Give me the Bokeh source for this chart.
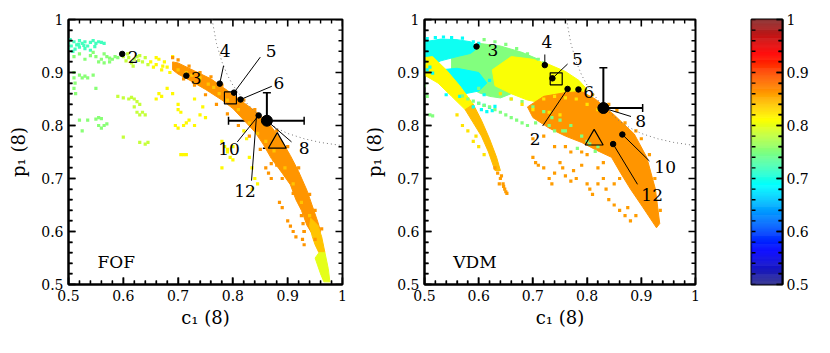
import math
from bokeh.plotting import figure
from bokeh.layouts import row
from bokeh.models import (ColumnDataSource, FixedTicker, CustomJSTickFormatter,
                          Whisker, TeeHead, Range1d)
from bokeh.transform import linear_cmap
from bokeh.core.properties import value
from bokeh.embed import file_html
from bokeh.resources import INLINE

FONT = "DejaVu Serif"

# ---------------- colour scale (jet-like, 0.5 .. 1) ----------------
cb_low, cb_high = 0.5, 1.0
jet_stops = [(0.0, (45, 45, 140)), (0.125, (0, 0, 255)), (0.375, (0, 255, 255)),
             (0.625, (255, 255, 0)), (0.875, (255, 0, 0)), (1.0, (140, 45, 45))]


def jet(t):
    for (t0, c0), (t1, c1) in zip(jet_stops[:-1], jet_stops[1:]):
        if t <= t1:
            f = (t - t0) / (t1 - t0)
            return "#%02x%02x%02x" % tuple(int(round(a + (b - a) * f)) for a, b in zip(c0, c1))
    return "#%02x%02x%02x" % jet_stops[-1][1]


palette = [jet(i / 255) for i in range(256)]

major_ticks = [0.5, 0.6, 0.7, 0.8, 0.9, 1.0]
minor_ticks = [0.52, 0.54, 0.56, 0.58, 0.62, 0.64, 0.66, 0.68, 0.72, 0.74, 0.76, 0.78,
               0.82, 0.84, 0.86, 0.88, 0.92, 0.94, 0.96, 0.98]

# dotted iso-curve (same in both panels)
curve_c = [0.762, 0.77, 0.78, 0.79, 0.80, 0.82, 0.84, 0.86, 0.88, 0.90, 0.93, 0.96, 1.0]
curve_p = [1.0, 0.955, 0.92, 0.895, 0.876, 0.848, 0.826, 0.808, 0.795, 0.785, 0.775, 0.768, 0.762]

# ================= FOF panel data =================
fof_band_v = [0.865, 0.84, 0.80]
fof_band_c = [
    [0.69, 0.70, 0.73, 0.76, 0.79, 0.82, 0.85, 0.87, 0.89, 0.905, 0.92, 0.935, 0.945, 0.955, 0.96,
     0.955, 0.945, 0.935, 0.925, 0.915, 0.905, 0.89, 0.87, 0.855, 0.84, 0.82, 0.80, 0.78, 0.75, 0.72, 0.70, 0.69],
    [0.942, 0.955, 0.962, 0.968, 0.957, 0.95, 0.945, 0.94],
    [0.957, 0.968, 0.974, 0.977, 0.966, 0.96, 0.955, 0.95],
]
fof_band_p = [
    [0.92, 0.918, 0.903, 0.888, 0.866, 0.843, 0.82, 0.798, 0.77, 0.743, 0.713, 0.678, 0.648, 0.618, 0.60,
     0.592, 0.595, 0.612, 0.64, 0.66, 0.688, 0.71, 0.738, 0.765, 0.788, 0.81, 0.832, 0.848, 0.868, 0.886, 0.897, 0.905],
    [0.625, 0.612, 0.59, 0.56, 0.56, 0.575, 0.59, 0.61],
    [0.56, 0.56, 0.53, 0.505, 0.505, 0.52, 0.535, 0.55],
]

fof_g1_v = 0.72
fof_g1_c = [0.50, 0.505, 0.51, 0.515, 0.52, 0.525, 0.53, 0.535, 0.54, 0.545, 0.55, 0.555, 0.56, 0.50, 0.512,
            0.52, 0.53, 0.54, 0.503, 0.508, 0.518, 0.528, 0.548, 0.565]
fof_g1_p = [0.955, 0.95, 0.958, 0.952, 0.96, 0.955, 0.958, 0.95, 0.957, 0.96, 0.955, 0.958, 0.957, 0.945, 0.944,
            0.948, 0.945, 0.942, 0.962, 0.94, 0.953, 0.951, 0.949, 0.955]
fof_g2_v = 0.755
fof_g2_c = [0.51, 0.52, 0.53, 0.54, 0.55, 0.555, 0.56, 0.565, 0.57, 0.575, 0.58, 0.585, 0.59, 0.51, 0.51, 0.512,
            0.51, 0.513, 0.52, 0.525, 0.53, 0.535, 0.545, 0.55, 0.52, 0.535, 0.55, 0.555, 0.56, 0.555, 0.56, 0.565,
            0.57, 0.525, 0.545, 0.565, 0.575]
fof_g2_p = [0.93, 0.935, 0.925, 0.932, 0.93, 0.92, 0.925, 0.918, 0.93, 0.92, 0.925, 0.93, 0.928, 0.90, 0.89, 0.88,
            0.87, 0.86, 0.895, 0.89, 0.893, 0.89, 0.895, 0.87, 0.81, 0.81, 0.812, 0.815, 0.813, 0.80, 0.795, 0.80,
            0.803, 0.79, 0.938, 0.935, 0.927]
fof_g3_v = 0.785
fof_g3_c = [0.60, 0.605, 0.61, 0.615, 0.62, 0.625, 0.63, 0.635, 0.64, 0.645, 0.59, 0.60, 0.61, 0.615, 0.62, 0.625,
            0.63, 0.62, 0.625, 0.63, 0.635, 0.64, 0.60, 0.63, 0.64, 0.645, 0.608, 0.618, 0.628]
fof_g3_p = [0.93, 0.922, 0.928, 0.918, 0.925, 0.93, 0.932, 0.92, 0.928, 0.915, 0.855, 0.852, 0.85, 0.853, 0.85,
            0.845, 0.84, 0.835, 0.825, 0.82, 0.825, 0.82, 0.778, 0.768, 0.765, 0.768, 0.935, 0.912, 0.923]
fof_g4_v = 0.815
fof_g4_c = [0.65, 0.655, 0.66, 0.665, 0.67, 0.675, 0.68, 0.685, 0.66, 0.665, 0.67, 0.68, 0.69, 0.70, 0.70, 0.705,
            0.695, 0.70, 0.71, 0.715, 0.72, 0.705, 0.71, 0.715, 0.73, 0.74, 0.75, 0.73, 0.745, 0.78, 0.785, 0.79,
            0.795, 0.80, 0.80, 0.78, 0.79, 0.83, 0.835, 0.84, 0.845, 0.835, 0.82, 0.825, 0.66, 0.672, 0.69]
fof_g4_p = [0.92, 0.91, 0.915, 0.925, 0.905, 0.92, 0.91, 0.90, 0.85, 0.86, 0.855, 0.87, 0.86, 0.84, 0.83, 0.825,
            0.80, 0.795, 0.80, 0.805, 0.81, 0.745, 0.745, 0.745, 0.80, 0.82, 0.815, 0.85, 0.835, 0.77, 0.76, 0.75,
            0.74, 0.76, 0.735, 0.72, 0.755, 0.74, 0.72, 0.70, 0.69, 0.68, 0.79, 0.775, 0.928, 0.912, 0.93]
fof_g5_v = 0.865
fof_g5_c = [0.86, 0.865, 0.87, 0.885, 0.89, 0.875, 0.88, 0.90, 0.91, 0.915, 0.905, 0.925, 0.928, 0.93, 0.927, 0.93,
            0.69, 0.70, 0.72, 0.74, 0.76, 0.78, 0.80, 0.82, 0.84, 0.86, 0.88, 0.90, 0.92, 0.94, 0.95,
            0.71, 0.73, 0.75, 0.77, 0.79, 0.81, 0.83, 0.85, 0.87, 0.89, 0.91, 0.93, 0.95, 0.962]
fof_g5_p = [0.72, 0.71, 0.70, 0.655, 0.645, 0.735, 0.725, 0.62, 0.60, 0.59, 0.61, 0.63, 0.615, 0.60, 0.585, 0.575,
            0.928, 0.924, 0.912, 0.90, 0.892, 0.876, 0.862, 0.848, 0.83, 0.815, 0.79, 0.76, 0.72, 0.67, 0.64,
            0.888, 0.876, 0.858, 0.84, 0.822, 0.80, 0.78, 0.755, 0.728, 0.70, 0.672, 0.60, 0.585, 0.605]
fof_g6_v = 0.84
fof_g6_c = [0.70, 0.715, 0.725, 0.74, 0.755, 0.765, 0.775, 0.79, 0.81, 0.83, 0.845, 0.86, 0.875, 0.895, 0.91, 0.925,
            0.94, 0.948]
fof_g6_p = [0.905, 0.90, 0.895, 0.89, 0.878, 0.872, 0.86, 0.848, 0.83, 0.805, 0.785, 0.77, 0.752, 0.72, 0.69, 0.655,
            0.63, 0.61]

fof_pt_c = [0.598, 0.715, 0.776, 0.802, 0.814, 0.847]
fof_pt_p = [0.935, 0.894, 0.879, 0.862, 0.849, 0.819]
fof_lbl_txt = ["2", "3", "4", "5", "6", "8", "10", "12"]
fof_lbl_c = [0.618, 0.733, 0.786, 0.870, 0.884, 0.930, 0.793, 0.822]
fof_lbl_p = [0.929, 0.890, 0.940, 0.940, 0.881, 0.757, 0.755, 0.676]
fof_lead_c0 = [0.783, 0.850, 0.871, 0.907, 0.808, 0.834]
fof_lead_p0 = [0.913, 0.929, 0.874, 0.769, 0.769, 0.696]
fof_lead_c1 = [0.776, 0.802, 0.814, 0.862, 0.847, 0.843]
fof_lead_p1 = [0.879, 0.862, 0.849, 0.809, 0.819, 0.817]
fof_obs_c, fof_obs_p = 0.862, 0.809
fof_obs_clo, fof_obs_chi = 0.792, 0.930
fof_obs_plo, fof_obs_phi = 0.757, 0.862
fof_sq_c, fof_sq_p = 0.7955, 0.852
fof_tri_c, fof_tri_p = 0.881, 0.767

# ================= VDM panel data =================
vdm_band_v = [0.75, 0.695, 0.69, 0.81, 0.865, 0.815, 0.845]
vdm_band_c = [
    [0.55, 0.60, 0.64, 0.68, 0.71, 0.70, 0.68, 0.66, 0.64, 0.62, 0.60, 0.58, 0.55],
    [0.5, 0.53, 0.56, 0.585, 0.60, 0.585, 0.56, 0.53, 0.515, 0.5],
    [0.53, 0.56, 0.60, 0.615, 0.60, 0.575, 0.55, 0.535],
    [0.66, 0.70, 0.73, 0.76, 0.785, 0.80, 0.78, 0.75, 0.72, 0.69, 0.66, 0.63, 0.625],
    [0.72, 0.76, 0.79, 0.815, 0.85, 0.887, 0.91, 0.926, 0.934, 0.928, 0.90, 0.88, 0.862, 0.845, 0.82, 0.79,
     0.76, 0.73, 0.70, 0.69],
    [0.5, 0.515, 0.54, 0.565, 0.59, 0.575, 0.55, 0.525, 0.5],
    [0.59, 0.605, 0.62, 0.633, 0.64, 0.63, 0.618, 0.605, 0.59, 0.575],
]
vdm_band_p = [
    [0.935, 0.955, 0.95, 0.938, 0.925, 0.90, 0.875, 0.86, 0.852, 0.855, 0.862, 0.875, 0.9],
    [0.958, 0.963, 0.962, 0.958, 0.948, 0.936, 0.93, 0.922, 0.912, 0.905],
    [0.905, 0.908, 0.90, 0.88, 0.865, 0.86, 0.87, 0.885],
    [0.93, 0.925, 0.915, 0.902, 0.885, 0.868, 0.852, 0.845, 0.842, 0.848, 0.86, 0.875, 0.905],
    [0.855, 0.862, 0.864, 0.85, 0.82, 0.784, 0.74, 0.68, 0.615, 0.607, 0.65, 0.68, 0.71, 0.74, 0.752, 0.768,
     0.78, 0.795, 0.815, 0.835],
    [0.928, 0.93, 0.905, 0.875, 0.84, 0.83, 0.855, 0.88, 0.895],
    [0.84, 0.81, 0.775, 0.74, 0.715, 0.715, 0.75, 0.78, 0.805, 0.83],
]

vdm_g1_v = 0.69
vdm_g1_c = [0.59, 0.60, 0.605, 0.61, 0.615, 0.62, 0.625, 0.63, 0.50, 0.505, 0.51, 0.59, 0.60, 0.57, 0.55,
            0.62, 0.61, 0.54, 0.565, 0.52, 0.535, 0.505, 0.515]
vdm_g1_p = [0.835, 0.842, 0.83, 0.838, 0.826, 0.834, 0.828, 0.836, 0.92, 0.905, 0.91, 0.958, 0.955, 0.965, 0.966,
            0.885, 0.858, 0.858, 0.855, 0.966, 0.967, 0.964, 0.899]
vdm_g2_v = 0.75
vdm_g2_c = [0.57, 0.58, 0.59, 0.60, 0.61, 0.62, 0.63, 0.64, 0.65, 0.66, 0.67, 0.68, 0.69, 0.60, 0.62, 0.64,
            0.66, 0.68, 0.70, 0.72, 0.50, 0.505, 0.50, 0.51, 0.515, 0.77, 0.76, 0.75, 0.79, 0.80, 0.805, 0.74,
            0.73, 0.815, 0.782, 0.82, 0.61, 0.63, 0.65, 0.67, 0.69, 0.71, 0.72, 0.705, 0.735, 0.755]
vdm_g2_p = [0.856, 0.85, 0.846, 0.842, 0.838, 0.835, 0.83, 0.825, 0.82, 0.815, 0.81, 0.805, 0.80, 0.87, 0.865,
            0.858, 0.85, 0.845, 0.835, 0.826, 0.86, 0.855, 0.875, 0.82, 0.818, 0.80, 0.79, 0.81, 0.78, 0.77,
            0.765, 0.79, 0.80, 0.751, 0.757, 0.76, 0.962, 0.958, 0.953, 0.945, 0.935, 0.925, 0.918, 0.805,
            0.815, 0.79]
vdm_g3_v = 0.825
vdm_g3_c = [0.56, 0.57, 0.58, 0.59, 0.60, 0.595, 0.61, 0.72, 0.74, 0.76, 0.78, 0.80, 0.82, 0.70, 0.73, 0.75,
            0.68, 0.66, 0.64]
vdm_g3_p = [0.82, 0.80, 0.79, 0.77, 0.76, 0.78, 0.745, 0.85, 0.855, 0.852, 0.85, 0.84, 0.83, 0.83, 0.825, 0.82,
            0.84, 0.85, 0.86]
vdm_g4_v = 0.86
vdm_g4_c = [0.70, 0.705, 0.71, 0.72, 0.73, 0.735, 0.74, 0.75, 0.755, 0.76, 0.77, 0.78, 0.775, 0.79, 0.80, 0.805,
            0.81, 0.82, 0.83, 0.835, 0.84, 0.85, 0.86, 0.87, 0.875, 0.88, 0.89, 0.85, 0.86, 0.82, 0.83, 0.80,
            0.79, 0.77, 0.76, 0.74, 0.72, 0.70,
            0.63, 0.635, 0.64, 0.638, 0.645, 0.648, 0.65, 0.652, 0.642, 0.646,
            0.915, 0.925, 0.935, 0.90, 0.89, 0.87, 0.855, 0.84, 0.81]
vdm_g4_p = [0.74, 0.73, 0.725, 0.72, 0.70, 0.69, 0.71, 0.73, 0.72, 0.705, 0.695, 0.70, 0.715, 0.725, 0.69, 0.68,
            0.67, 0.69, 0.70, 0.68, 0.66, 0.65, 0.64, 0.63, 0.645, 0.62, 0.63, 0.69, 0.70, 0.72, 0.73, 0.745,
            0.75, 0.75, 0.76, 0.76, 0.78, 0.775,
            0.72, 0.71, 0.70, 0.69, 0.69, 0.68, 0.675, 0.672, 0.705, 0.685,
            0.745, 0.70, 0.64, 0.775, 0.79, 0.805, 0.828, 0.84, 0.858]

vdm_pt_c = [0.596, 0.722, 0.736, 0.764, 0.784, 0.865, 0.848]
vdm_pt_p = [0.949, 0.914, 0.889, 0.869, 0.868, 0.783, 0.765]
vdm_lbl_txt = ["3", "4", "5", "2", "6", "8", "10", "12"]
vdm_lbl_c = [0.626, 0.726, 0.782, 0.704, 0.803, 0.899, 0.944, 0.920]
vdm_lbl_p = [0.943, 0.958, 0.925, 0.775, 0.863, 0.809, 0.721, 0.669]
vdm_lead_c0 = [0.722, 0.764, 0.718, 0.881, 0.915, 0.893]
vdm_lead_p0 = [0.934, 0.916, 0.799, 0.817, 0.733, 0.689]
vdm_lead_c1 = [0.722, 0.736, 0.764, 0.830, 0.865, 0.848]
vdm_lead_p1 = [0.914, 0.889, 0.869, 0.833, 0.783, 0.765]
vdm_obs_c, vdm_obs_p = 0.830, 0.833
vdm_obs_clo, vdm_obs_chi = 0.758, 0.9025
vdm_obs_plo, vdm_obs_phi = 0.757, 0.909
vdm_sq_c, vdm_sq_p = 0.743, 0.888
vdm_tri_c, vdm_tri_p = 0.813, 0.773

fmt_code = "return Math.abs(tick - 1) < 1e-9 ? '1' : tick.toFixed(1);"
FRAME_H = 265


def style_axis(ax, tick_in=7, minor_in=4):
    ax.ticker = FixedTicker(ticks=list(major_ticks), minor_ticks=list(minor_ticks))
    ax.formatter = CustomJSTickFormatter(code=fmt_code)
    ax.major_tick_in = tick_in
    ax.major_tick_out = 0
    ax.minor_tick_in = minor_in
    ax.minor_tick_out = 0
    ax.major_tick_line_color = "black"
    ax.minor_tick_line_color = "black"
    ax.major_tick_line_width = 1.5
    ax.minor_tick_line_width = 1.3
    ax.axis_line_width = 2
    ax.axis_line_color = "black"
    ax.major_label_text_font = FONT
    ax.major_label_text_font_size = "14px"
    ax.major_label_text_color = "black"
    ax.major_label_standoff = 5
    ax.axis_label_text_font = FONT
    ax.axis_label_text_font_size = "18px"
    ax.axis_label_text_font_style = "normal"
    ax.axis_label_text_color = "black"


def dash_ticks(p, along, fixed, inward, length, vertical, lw):
    """Short inward tick marks drawn as dash markers centred half a tick inside the frame edge."""
    n = len(along)
    pos = [fixed + inward * length / 2.0] * n
    if vertical:
        src = ColumnDataSource(dict(x=list(along), y=pos))
        ang = math.pi / 2
    else:
        src = ColumnDataSource(dict(x=pos, y=list(along)))
        ang = 0.0
    p.scatter("x", "y", source=src, marker="dash", size=length_px_holder[0] if False else 0,
              visible=False)
    return src, ang


def add_ticks(p, frame_w, frame_h, big, small, x_lo=0.5, x_hi=1.0):
    dx = (x_hi - x_lo) / frame_w
    dy = 0.5 / frame_h
    for ticks, ln, lw in ((major_ticks, big, 1.6), (minor_ticks, small, 1.4)):
        n = len(ticks)
        # bottom and top edges (vertical marks)
        ys = [0.5 + ln * dy / 2] * n + [1.0 - ln * dy / 2] * n
        p.scatter(x=list(ticks) * 2, y=ys, marker="dash", size=ln, angle=math.pi / 2,
                  line_color="black", line_width=lw)
        # left and right edges (horizontal marks)
        xs = [x_lo + ln * dx / 2] * n + [x_hi - ln * dx / 2] * n
        p.scatter(x=xs, y=list(ticks) * 2, marker="dash", size=ln, angle=0.0,
                  line_color="black", line_width=lw)


def make_panel(width, left, right, frame_w, bands_c, bands_p, bands_v, groups, pts_c, pts_p,
               lbl_c, lbl_p, lbl_t, lc0, lp0, lc1, lp1, obs, sq, tri, name):
    p = figure(width=width, height=337, x_range=Range1d(0.5, 1.0), y_range=Range1d(0.5, 1.0),
               min_border_left=left, min_border_right=right, min_border_top=19,
               min_border_bottom=337 - 19 - FRAME_H,
               output_backend="svg", toolbar_location=None)
    p.grid.visible = False
    p.outline_line_color = "black"
    p.outline_line_width = 2
    bx, by = p.below[0], p.left[0]
    style_axis(bx)
    style_axis(by)
    bx.axis_label = "c\u2081 (8)"
    by.axis_label = "p\u2081 (8)"
    bx.axis_label_standoff = 3
    by.axis_label_standoff = 9

    cmap = linear_cmap("v", palette, cb_low, cb_high)
    band_src = ColumnDataSource(dict(xs=bands_c, ys=bands_p, v=bands_v))
    p.patches("xs", "ys", source=band_src, fill_color=cmap, line_color=cmap, line_width=1)
    for gc, gp, gv in groups:
        src = ColumnDataSource(dict(x=gc, y=gp, v=[gv] * len(gc)))
        p.scatter("x", "y", source=src, marker="square", size=3.2, fill_color=cmap, line_color=None)

    p.line(curve_c, curve_p, line_color="#777777", line_dash="1 3", line_width=1)
    p.segment(x0=lc0, y0=lp0, x1=lc1, y1=lp1, line_color="black", line_width=1)
    p.scatter(pts_c, pts_p, marker="circle", size=5.5, fill_color="black", line_color="black")
    p.scatter([sq[0]], [sq[1]], marker="square", size=12, fill_color=None, line_color="black",
              line_width=1.2)
    p.scatter([tri[0]], [tri[1]], marker="triangle", size=18, fill_color=None, line_color="black",
              line_width=1.2)
    oc, op, clo, chi, plo, phi = obs
    wsrc = ColumnDataSource(dict(c=[oc], p=[op], clo=[clo], chi=[chi], plo=[plo], phi=[phi]))
    p.add_layout(Whisker(source=wsrc, base="c", lower="plo", upper="phi", dimension="height",
                         line_width=2, line_color="black",
                         upper_head=TeeHead(size=8, line_width=1.5),
                         lower_head=TeeHead(size=8, line_width=1.5)))
    p.add_layout(Whisker(source=wsrc, base="p", lower="clo", upper="chi", dimension="width",
                         line_width=2, line_color="black",
                         upper_head=TeeHead(size=8, line_width=1.5),
                         lower_head=TeeHead(size=8, line_width=1.5)))
    p.scatter([oc], [op], marker="circle", size=11, fill_color="black", line_color="black")
    add_ticks(p, frame_w, FRAME_H, 7, 4)
    p.text(lbl_c, lbl_p, text=lbl_t, text_font=value(FONT), text_font_size="17px",
           text_align="center", text_baseline="middle", text_color="black")
    p.text([0.553], [0.542], text=[name], text_font=value(FONT), text_font_size="17px",
           text_align="left", text_baseline="middle", text_color="black")
    return p


p1 = make_panel(354, 68, 12, 274, fof_band_c, fof_band_p, fof_band_v,
                [(fof_g1_c, fof_g1_p, fof_g1_v), (fof_g2_c, fof_g2_p, fof_g2_v),
                 (fof_g3_c, fof_g3_p, fof_g3_v), (fof_g4_c, fof_g4_p, fof_g4_v),
                 (fof_g5_c, fof_g5_p, fof_g5_v), (fof_g6_c, fof_g6_p, fof_g6_v)],
                fof_pt_c, fof_pt_p, fof_lbl_c, fof_lbl_p, fof_lbl_txt,
                fof_lead_c0, fof_lead_p0, fof_lead_c1, fof_lead_p1,
                (fof_obs_c, fof_obs_p, fof_obs_clo, fof_obs_chi, fof_obs_plo, fof_obs_phi),
                (fof_sq_c, fof_sq_p), (fof_tri_c, fof_tri_p), "FOF")

p2 = make_panel(349, 70, 8, 271, vdm_band_c, vdm_band_p, vdm_band_v,
                [(vdm_g1_c, vdm_g1_p, vdm_g1_v), (vdm_g2_c, vdm_g2_p, vdm_g2_v),
                 (vdm_g3_c, vdm_g3_p, vdm_g3_v), (vdm_g4_c, vdm_g4_p, vdm_g4_v)],
                vdm_pt_c, vdm_pt_p, vdm_lbl_c, vdm_lbl_p, vdm_lbl_txt,
                vdm_lead_c0, vdm_lead_p0, vdm_lead_c1, vdm_lead_p1,
                (vdm_obs_c, vdm_obs_p, vdm_obs_clo, vdm_obs_chi, vdm_obs_plo, vdm_obs_phi),
                (vdm_sq_c, vdm_sq_p), (vdm_tri_c, vdm_tri_p), "VDM")

# ---------------- colour bar ----------------
n = len(palette)
cb_bottom = [cb_low + (cb_high - cb_low) * i / n for i in range(n)]
cb_top = [cb_low + (cb_high - cb_low) * (i + 1) / n for i in range(n)]
cb_val = [(b + t) / 2 for b, t in zip(cb_bottom, cb_top)]
p3 = figure(width=111, height=337, x_range=Range1d(0, 1), y_range=Range1d(cb_low, cb_high),
            min_border_left=48, min_border_right=32, min_border_top=19, min_border_bottom=337 - 19 - FRAME_H,
            output_backend="svg", toolbar_location=None, x_axis_location=None, y_axis_location="right")
p3.grid.visible = False
p3.outline_line_color = "black"
p3.outline_line_width = 2
cb_src = ColumnDataSource(dict(b=cb_bottom, t=cb_top, v=cb_val))
p3.quad(left=0, right=1, bottom="b", top="t", source=cb_src,
        fill_color=linear_cmap("v", palette, cb_low, cb_high),
        line_color=linear_cmap("v", palette, cb_low, cb_high), line_width=0.5)
style_axis(p3.right[0], tick_in=6, minor_in=4)
p3.right[0].major_label_standoff = 4
dxc = 1.0 / 31
for ticks, ln_l, ln_r, lw in ((major_ticks, 4, 6, 1.6), (minor_ticks, 4, 4, 1.4)):
    m = len(ticks)
    p3.scatter(x=[ln_l * dxc / 2] * m, y=list(ticks), marker="dash", size=ln_l,
               line_color="black", line_width=lw)
    p3.scatter(x=[1 - ln_r * dxc / 2] * m, y=list(ticks), marker="dash", size=ln_r,
               line_color="black", line_width=lw)

layout = row(p1, p2, p3, spacing=0)
open("out.html", "w").write(file_html(layout, INLINE))
